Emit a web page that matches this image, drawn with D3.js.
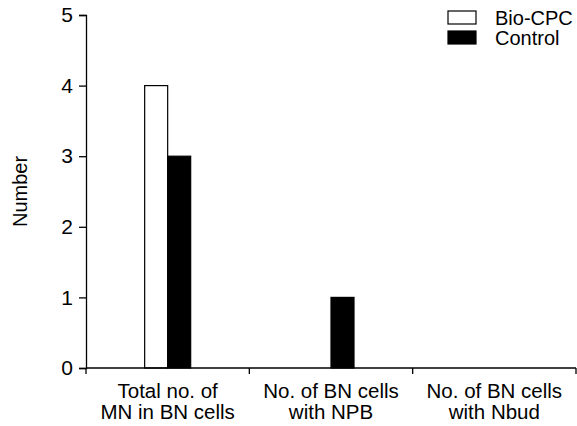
<!DOCTYPE html>
<html>
<head>
<meta charset="utf-8">
<script src="https://cdn.jsdelivr.net/npm/d3@7"></script>
<style>
  body { margin: 0; background: #fff; }
  svg { display: block; font-family: "Liberation Sans", Arial, sans-serif; }
</style>
</head>
<body>
<svg id="chart"></svg>
<script>
const categories = [["Total no. of", "MN in BN cells"], ["No. of BN cells", "with NPB"], ["No. of BN cells", "with Nbud"]];
const series = ["Bio-CPC", "Control"];
const bioCPC = [4, 0, 0];
const control = [3, 1, 0];
const yTicks = [0, 1, 2, 3, 4, 5];

const width = 577, height = 426;
const margin = { top: 15, right: 1, bottom: 58, left: 86 };

const svg = d3.select("#chart")
    .attr("width", width)
    .attr("height", height);

const x0 = d3.scaleBand()
    .domain(d3.range(categories.length))
    .range([margin.left, width - margin.right])
    .padding(0);

const x1 = d3.scaleBand()
    .domain(series)
    .range([0, x0.bandwidth()])
    .paddingInner(0)
    .paddingOuter(2.55);

const y = d3.scaleLinear()
    .domain([0, 5])
    .range([height - margin.bottom, margin.top]);

const fills = { "Bio-CPC": "#fff", "Control": "#000" };
const values = { "Bio-CPC": bioCPC, "Control": control };

// bars
const groups = svg.append("g")
    .selectAll("g")
    .data(categories.map((c, i) => i))
    .join("g")
    .attr("transform", i => `translate(${x0(i)},0)`);

groups.selectAll("rect")
    .data(i => series.map(s => ({ s, v: values[s][i] })).filter(d => d.v > 0))
    .join("rect")
    .attr("x", d => x1(d.s))
    .attr("y", d => y(d.v))
    .attr("width", x1.bandwidth())
    .attr("height", d => y(0) - y(d.v))
    .attr("fill", d => fills[d.s])
    .attr("stroke", "#000")
    .attr("stroke-width", 1.2);

// y axis
const yAxis = svg.append("g")
    .attr("transform", `translate(${margin.left},0)`)
    .call(d3.axisLeft(y).tickValues(yTicks).tickFormat(d3.format("d")).tickSize(7).tickPadding(6));
yAxis.select(".domain").attr("stroke-width", 1.3);
yAxis.selectAll(".tick line").attr("stroke-width", 1.3);
yAxis.selectAll("text").style("font-size", "21px").attr("fill", "#000");

// x axis with boundary ticks
const xAxisG = svg.append("g")
    .attr("transform", `translate(0,${y(0)})`);
xAxisG.append("line")
    .attr("x1", margin.left).attr("x2", width - margin.right)
    .attr("stroke", "#000").attr("stroke-width", 1.3);
const bounds = d3.range(categories.length + 1).map(i => i < categories.length ? x0(i) : x0(i - 1) + x0.bandwidth());
xAxisG.selectAll(".bt")
    .data(bounds)
    .join("line")
    .attr("x1", d => d).attr("x2", d => d)
    .attr("y1", 0).attr("y2", 6)
    .attr("stroke", "#000").attr("stroke-width", 1.3);

xAxisG.selectAll("text")
    .data(categories)
    .join("text")
    .attr("text-anchor", "middle")
    .attr("transform", (d, i) => `translate(${x0(i) + x0.bandwidth() / 2},0)`)
    .style("font-size", "20.5px")
    .selectAll("tspan")
    .data(d => d)
    .join("tspan")
    .attr("x", 0)
    .attr("y", (d, j) => 30 + j * 21)
    .text(d => d);

// y label
svg.append("text")
    .attr("transform", `translate(27,${(y(0) + y(5)) / 2}) rotate(-90)`)
    .attr("text-anchor", "middle")
    .style("font-size", "20px")
    .text("Number");

// legend
const legend = svg.append("g")
    .selectAll("g")
    .data(series)
    .join("g")
    .attr("transform", (d, i) => `translate(448,${11 + i * 20})`);
legend.append("rect")
    .attr("width", 28).attr("height", 13)
    .attr("fill", d => fills[d])
    .attr("stroke", "#000").attr("stroke-width", 1.2);
legend.append("text")
    .attr("x", 47).attr("y", 14)
    .style("font-size", "20px")
    .text(d => d);
</script>
</body>
</html>
